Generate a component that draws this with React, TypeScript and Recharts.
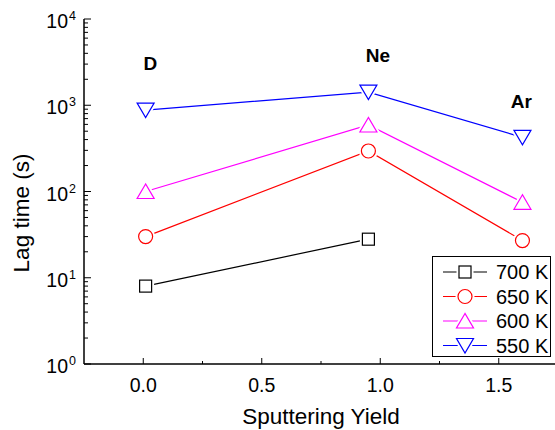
import { LineChart, Line, XAxis, YAxis, Legend, ReferenceDot, Label } from "recharts";

// sputtering yield of each gas (x), lag time in seconds per temperature (y)
const sputterYield = [0.01, 0.95, 1.6];
const gasNames = ["D", "Ne", "Ar"];
const lag700K: (number | null)[] = [8, 28, null];
const lag650K = [30, 295, 27];
const lag600K = [100, 590, 75];
const lag550K = [880, 1420, 425];

const seriesNames = ["700 K", "650 K", "600 K", "550 K"];
const seriesColors = ["#000000", "#ff0000", "#ff00ff", "#0000ff"];
const seriesMarkers = ["square", "circle", "triangleUp", "triangleDown"];

// where the gas names sit, in data units
const gasLabelX = [0.03, 0.99, 1.595];
const gasLabelY = [3100, 3800, 1120];

const xMajorTicks = [0, 0.5, 1, 1.5];
const xMinorTicks = [0.25, 0.75, 1.25];
const yDecades = [1, 10, 100, 1000, 10000];

const xTicks = [...xMajorTicks, ...xMinorTicks];
const yTicks: number[] = [];
yDecades.forEach((d, i) => {
  yTicks.push(d);
  if (i < yDecades.length - 1) {
    for (let m = 2; m <= 9; m++) yTicks.push(d * m);
  }
});

const data = sputterYield.map((x, i) => ({
  x,
  k700: lag700K[i],
  k650: lag650K[i],
  k600: lag600K[i],
  k550: lag550K[i],
}));
const dataKeys = ["k700", "k650", "k600", "k550"];

const FONT = "'Liberation Sans', Arial, sans-serif";

function Marker({ cx, cy, kind, color }: { cx: number; cy: number; kind: string; color: string }) {
  const draw = (stroke: string, sw: number) => {
    if (kind === "square")
      return <rect x={cx - 6} y={cy - 6} width={12} height={12} fill="#fff" stroke={stroke} strokeWidth={sw} />;
    if (kind === "circle") return <circle cx={cx} cy={cy} r={7} fill="#fff" stroke={stroke} strokeWidth={sw} />;
    if (kind === "triangleUp")
      return (
        <polygon
          points={`${cx},${cy - 7.5} ${cx - 8.5},${cy + 7} ${cx + 8.5},${cy + 7}`}
          fill="#fff"
          stroke={stroke}
          strokeWidth={sw}
        />
      );
    return (
      <polygon
        points={`${cx - 8.5},${cy - 7} ${cx + 8.5},${cy - 7} ${cx},${cy + 7.5}`}
        fill="#fff"
        stroke={stroke}
        strokeWidth={sw}
      />
    );
  };
  return (
    <g>
      {draw("#fff", 5)}
      {draw(color, 1.2)}
    </g>
  );
}

function isMajorY(v: number) {
  return yDecades.includes(v);
}

function LeftTick(props: any) {
  const { x, y, payload } = props;
  const v = payload.value;
  const major = isMajorY(v);
  const exp = Math.round(Math.log10(v));
  return (
    <g>
      <line x1={x} x2={x + (major ? 7 : 4)} y1={y} y2={y} stroke="#000" strokeWidth={1} />
      {major && (
        <text x={x - 8} y={y + 9} textAnchor="end" fontSize={19.5} fontFamily={FONT} fill="#000">
          10
          <tspan fontSize={12.5} dx={1} dy={-8}>
            {exp}
          </tspan>
        </text>
      )}
    </g>
  );
}

function RightTick(props: any) {
  const { x, y, payload } = props;
  const major = isMajorY(payload.value);
  return <line x1={x} x2={x - (major ? 7 : 4)} y1={y} y2={y} stroke="#000" strokeWidth={1} />;
}

function BottomTick(props: any) {
  const { x, y, payload } = props;
  const major = xMajorTicks.includes(payload.value);
  return (
    <g>
      <line x1={x} x2={x} y1={y} y2={y - (major ? 6 : 3)} stroke="#000" strokeWidth={1} />
      {major && (
        <text x={x} y={y + 28} textAnchor="middle" fontSize={19.5} fontFamily={FONT} fill="#000">
          {payload.value.toFixed(1)}
        </text>
      )}
    </g>
  );
}

function TopTick(props: any) {
  const { x, y, payload } = props;
  const major = xMajorTicks.includes(payload.value);
  return <line x1={x} x2={x} y1={y} y2={y + (major ? 6 : 3)} stroke="#000" strokeWidth={1} />;
}

function LegendBox() {
  return (
    <div style={{ width: 119, height: 101, border: "1px solid #000", background: "#fff", boxSizing: "border-box" }}>
      <svg width={117} height={99} style={{ display: "block" }}>
        {seriesNames.map((name, i) => {
          const cy = 15 + i * 24.5;
          return (
            <g key={name}>
              <line x1={10} x2={54} y1={cy} y2={cy} stroke={seriesColors[i]} strokeWidth={1.2} />
              <Marker cx={32} cy={cy} kind={seriesMarkers[i]} color={seriesColors[i]} />
              <text x={63} y={cy + 7} fontSize={20} fontFamily={FONT} fill="#000">
                {name}
              </text>
            </g>
          );
        })}
      </svg>
    </div>
  );
}

export default function App() {
  return (
    <div style={{ position: "absolute", left: 0, top: 0, width: 555, height: 430, overflow: "hidden", background: "#fff" }}>
      <LineChart width={565} height={430} data={data} margin={{ top: 19, right: 7, bottom: 0, left: 0 }}>
        <XAxis
          dataKey="x"
          type="number"
          domain={[-0.25, 1.75]}
          ticks={xTicks}
          interval={0}
          height={66}
          tickSize={0}
          tickMargin={0}
          tickLine={false}
          tick={<BottomTick />}
          axisLine={{ stroke: "#000", strokeWidth: 1.5 }}
          allowDataOverflow
        >
          <Label
            content={() => (
              <text x={321} y={424} textAnchor="middle" fontSize={22.5} fontFamily={FONT} fill="#000">
                Sputtering Yield
              </text>
            )}
          />
        </XAxis>
        <XAxis
          xAxisId="top"
          orientation="top"
          dataKey="x"
          type="number"
          domain={[-0.25, 1.75]}
          ticks={xTicks}
          interval={0}
          height={0}
          tickSize={0}
          tickMargin={0}
          tickLine={false}
          tick={<TopTick />}
          axisLine={{ stroke: "#000", strokeWidth: 1.5 }}
          allowDataOverflow
        />
        <YAxis
          scale="log"
          type="number"
          domain={[1, 10000]}
          ticks={yTicks}
          interval={0}
          width={84}
          tickSize={0}
          tickMargin={0}
          tickLine={false}
          tick={<LeftTick />}
          axisLine={{ stroke: "#000", strokeWidth: 1.5 }}
          allowDataOverflow
        >
          <Label
            content={() => (
              <text
                x={29}
                y={213}
                transform="rotate(-90 29 213)"
                textAnchor="middle"
                fontSize={22.5}
                fontFamily={FONT}
                fill="#000"
              >
                Lag time (s)
              </text>
            )}
          />
        </YAxis>
        <YAxis
          yAxisId="right"
          orientation="right"
          scale="log"
          type="number"
          domain={[1, 10000]}
          ticks={yTicks}
          interval={0}
          width={0}
          tickSize={0}
          tickMargin={0}
          tickLine={false}
          tick={<RightTick />}
          axisLine={{ stroke: "#000", strokeWidth: 1.5 }}
          allowDataOverflow
        />
        {dataKeys.map((k, i) => (
          <Line
            key={k}
            dataKey={k}
            name={seriesNames[i]}
            stroke={seriesColors[i]}
            strokeWidth={1.2}
            isAnimationActive={false}
            connectNulls={false}
            dot={(p: any) =>
              p.cy == null || p.value == null ? (
                <g key={`${k}-${p.index}`} />
              ) : (
                <Marker key={`${k}-${p.index}`} cx={p.cx} cy={p.cy} kind={seriesMarkers[i]} color={seriesColors[i]} />
              )
            }
            activeDot={false}
          />
        ))}
        {gasNames.map((g, i) => (
          <ReferenceDot
            key={g}
            x={gasLabelX[i]}
            y={gasLabelY[i]}
            r={0}
            fill="none"
            stroke="none"
            label={{ value: g, position: "center", fontSize: 19, fontWeight: 700, fontFamily: FONT, fill: "#000" }}
          />
        ))}
        <Legend
          layout="horizontal"
          verticalAlign="middle"
          align="center"
          content={() => <LegendBox />}
          wrapperStyle={{ position: "absolute", left: 432, top: 256, width: 119, height: 101 }}
        />
      </LineChart>
    </div>
  );
}
